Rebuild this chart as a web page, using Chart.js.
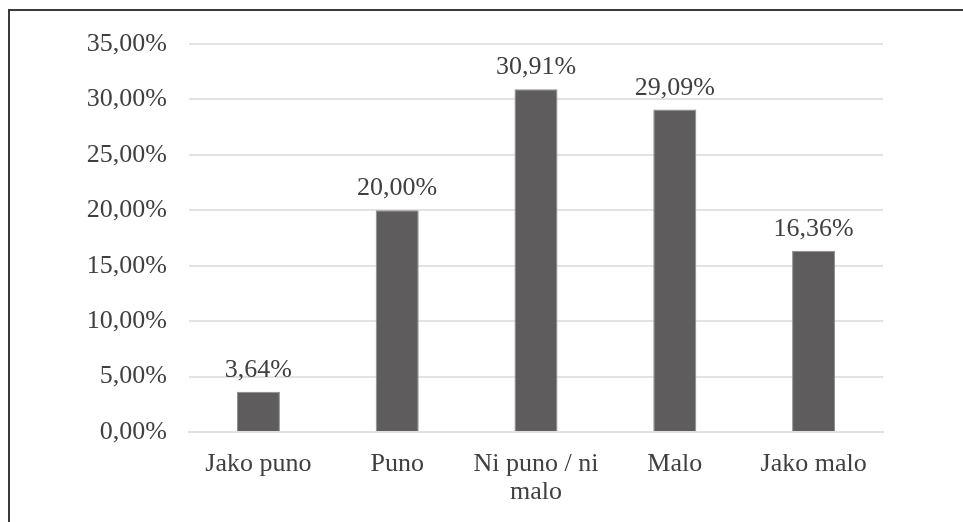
<!DOCTYPE html>
<html>
<head>
<meta charset="utf-8">
<script src="https://cdn.jsdelivr.net/npm/chart.js@4"></script>
<style>
  body { margin: 0; background: #fff; }
  #wrap {
    position: absolute; left: 8px; top: 9px; right: 0; bottom: 0;
    border-top: 2px solid #3a3a3a; border-left: 2px solid #3a3a3a;
  }
  canvas { display: block; }
</style>
</head>
<body>
<div id="wrap"><canvas id="chart" width="953" height="511"></canvas></div>
<script>
let kategorije = ['Jako puno', 'Puno', ['Ni puno / ni', 'malo'], 'Malo', 'Jako malo'];
let postotci = [3.64, 20.00, 30.91, 29.09, 16.36];
let yTicks = [0, 5, 10, 15, 20, 25, 30, 35];

let fmt = v => v.toFixed(2).replace('.', ',') + '%';
let serif = '"Liberation Serif", "Times New Roman", serif';

// labels above the bars
let vrijednosti = {
  id: 'vrijednosti',
  afterDatasetsDraw(chart) {
    let ctx = chart.ctx;
    let meta = chart.getDatasetMeta(0);
    ctx.save();
    ctx.font = '26px ' + serif;
    ctx.fillStyle = '#404040';
    ctx.textAlign = 'center';
    ctx.textBaseline = 'alphabetic';
    meta.data.forEach((bar, i) => {
      ctx.fillText(fmt(postotci[i]), bar.x, bar.y - 15);
    });
    ctx.restore();
  }
};

let kanvas = document.getElementById('chart');

let grafik = new Chart(kanvas, {
  type: 'bar',
  data: {
    labels: kategorije,
    datasets: [{
      data: postotci,
      backgroundColor: '#5e5c5d',
      borderColor: '#8a8a8a',
      borderWidth: 1,
      barPercentage: 0.31,
      categoryPercentage: 1
    }]
  },
  options: {
    responsive: false,
    animation: false,
    layout: { padding: { top: 33, right: 80, left: 0, bottom: 0 } },
    plugins: { legend: { display: false }, tooltip: { enabled: false } },
    scales: {
      x: {
        grid: { display: false },
        border: { display: true, color: '#e0e0e0', width: 2 },
        ticks: {
          color: '#404040',
          font: { family: serif, size: 26, lineHeight: 1.08 },
          padding: 10,
          maxRotation: 0
        },
        afterFit(scale) { scale.height = 90; }
      },
      y: {
        min: 0,
        max: 35,
        afterBuildTicks(scale) { scale.ticks = yTicks.map(v => ({ value: v })); },
        grid: { color: '#e3e3e3', lineWidth: 2, drawTicks: false },
        border: { display: false },
        ticks: {
          color: '#404040',
          font: { family: serif, size: 26 },
          padding: 22,
          callback: v => fmt(v)
        },
        afterFit(scale) {
          scale.width = 179;
          scale.paddingTop = 0;
          scale.paddingBottom = 0;
        }
      }
    }
  },
  plugins: [vrijednosti]
});
</script>
</body>
</html>
